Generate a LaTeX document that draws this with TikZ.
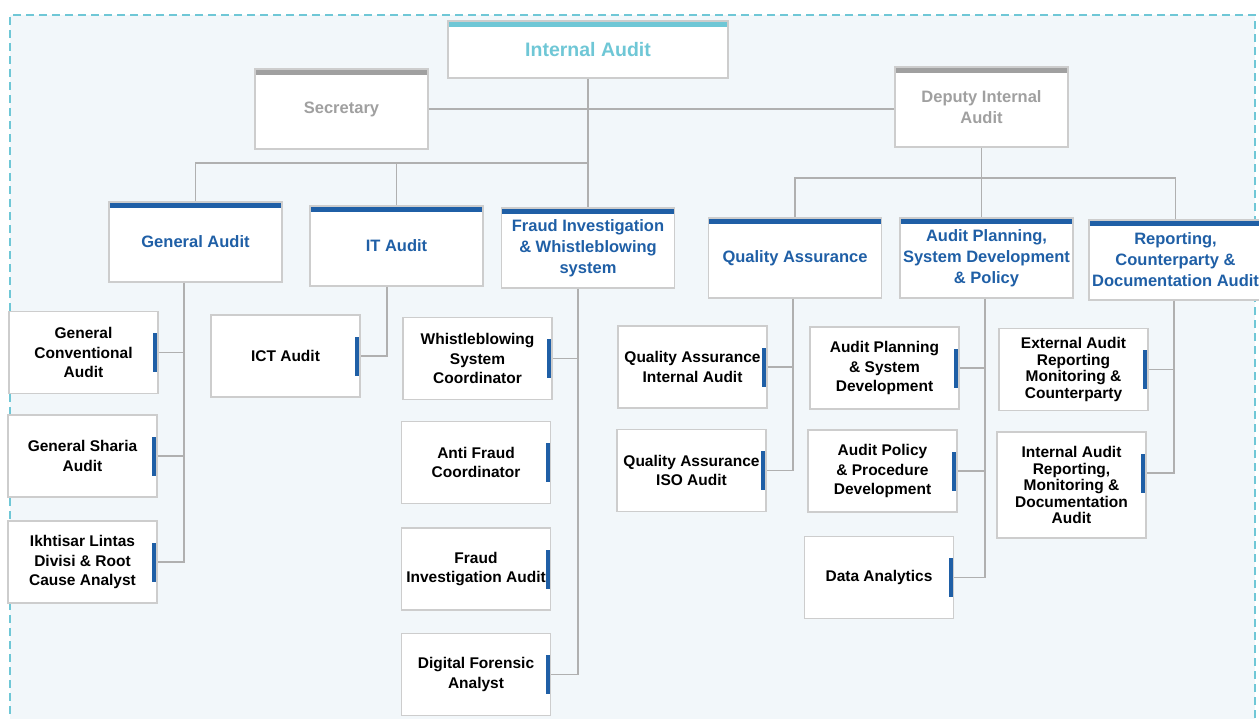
\documentclass[tikz,border=0pt]{standalone}
\usepackage{fontspec}
\setmainfont{Liberation Sans}
\usepackage{xcolor}

\definecolor{iablue}{HTML}{1F5FA6}
\definecolor{iacyan}{HTML}{6FC7D6}
\definecolor{iagray}{HTML}{A0A0A0}
\definecolor{iabg}{HTML}{F2F7FA}
\definecolor{iaedge}{HTML}{CDCDCD}
\definecolor{ialine}{HTML}{B0B0B0}

\tikzset{
  box/.style={draw=iaedge, line width=1.2pt, fill=white, align=center, inner sep=1pt},
  head/.style={box, minimum width=173pt, minimum height=80pt, text=#1,
    font=\fontsize{16.5}{21}\selectfont\bfseries,
    path picture={\fill[#1] (path picture bounding box.north west) rectangle ([yshift=-6pt]path picture bounding box.north east);}},
  head/.default=iablue,
  child/.style={box, minimum width=149pt, minimum height=82pt, text=black,
    font=\fontsize{15.5}{19.5}\selectfont\bfseries,
    path picture={\fill[iablue] ([xshift=-5pt,yshift=#1+19.5pt]path picture bounding box.east) rectangle ([yshift=#1-19.5pt]path picture bounding box.east);}},
  child/.default=0pt,
  tight/.style={font=\fontsize{15.5}{16.5}\selectfont\bfseries},
  link/.style={draw=ialine, line width=1.1pt}
}

\begin{document}
\begin{tikzpicture}[x=1pt, y=-1pt]
    \useasboundingbox (0,0) rectangle (1259,718);
    \fill[iabg] (10,15) rectangle (1255,740);
    \draw[iacyan, line width=2pt, dash pattern=on 8pt off 5pt] (10,740) -- (10,15) -- (1255,15) -- (1255,740);

    % top level
    \node[head=iacyan, minimum width=280pt, minimum height=57pt, font=\fontsize{19.5}{23}\selectfont\bfseries] (ia) at (588,49.5) {Internal Audit};
    \node[head=iagray] (sec) at (341.5,109) {Secretary};
    \node[head=iagray] (dep) at (981.5,107) {Deputy Internal\\Audit};

    \node[head] (ga) at (195.5,242) {General Audit};
    \node[head] (it) at (396.5,246) {IT Audit};
    \node[head] (fraud) at (588,248) {Fraud Investigation\\\& Whistleblowing\\system};
    \node[head] (qa) at (795,258) {Quality Assurance};
    \node[head] (ap) at (986.5,258) {Audit Planning,\\System Development\\\& Policy};
    \node[head] (rep) at (1175.5,260) {Reporting,\\Counterparty \&\\Documentation Audit};

    % units
    \node[child] (gc) at (83.5,352.5) {General\\Conventional\\Audit};
    \node[child] (gs) at (82.5,456) {General Sharia\\Audit};
    \node[child] (ilr) at (82.5,562) {Ikhtisar Lintas\\Divisi \& Root\\Cause Analyst};
    \node[child] (ict) at (285.5,356) {ICT Audit};
    \node[child] (wsc) at (477.5,358.5) {Whistleblowing\\System\\Coordinator};
    \node[child] (afc) at (476,462.5) {Anti Fraud\\Coordinator};
    \node[child] (fia) at (476,569) {Fraud\\Investigation Audit};
    \node[child] (dfa) at (476,674.5) {Digital Forensic\\Analyst};
    \node[child] (qai) at (692.5,367) {Quality Assurance\\Internal Audit};
    \node[child] (qaiso) at (691.5,470.5) {Quality Assurance\\ISO Audit};
    \node[child] (aps) at (884.5,368) {Audit Planning\\\& System\\Development};
    \node[child] (app) at (882.5,471) {Audit Policy\\\& Procedure\\Development};
    \node[child] (da) at (879,577.5) {Data Analytics};
    \node[child, tight] (ear) at (1073.5,369.5) {External Audit\\Reporting\\Monitoring \&\\Counterparty};
    \node[child=12pt, tight, minimum height=106pt] (iar) at (1071.5,485) {Internal Audit\\Reporting,\\Monitoring \&\\Documentation\\Audit};

    % lines
    \coordinate (busL) at (588,163);
    \coordinate (busR) at (981.5,178);
    \draw[link] (ia) -- (fraud);
    \draw[link] (sec.east) -- (sec.east -| dep.west);
    \draw[link] (ga.north) |- (busL);
    \draw[link] (it.north) |- (busL);
    \draw[link] (dep.south) -- (busR) -- (busR |- ap.north);
    \draw[link] (qa.north) |- (busR);
    \draw[link] (rep.north) |- (busR);

    \coordinate (gaBus) at ([xshift=-11.5pt]ga.south);
    \draw[link] (gaBus) |- (ilr.east);
    \draw[link] (gc.east) -- (gc.east -| gaBus);
    \draw[link] (gs.east) -- (gs.east -| gaBus);

    \draw[link] ([xshift=-9.5pt]it.south) |- (ict.east);

    \coordinate (frBus) at ([xshift=-10pt]fraud.south);
    \draw[link] (frBus) |- (dfa.east);
    \draw[link] (wsc.east) -- (wsc.east -| frBus);

    \coordinate (qaBus) at ([xshift=-2pt]qa.south);
    \draw[link] (qaBus) |- (qaiso.east);
    \draw[link] (qai.east) -- (qai.east -| qaBus);

    \coordinate (apBus) at ([xshift=-1.5pt]ap.south);
    \draw[link] (apBus) |- (da.east);
    \draw[link] (aps.east) -- (aps.east -| apBus);
    \draw[link] (app.east) -- (app.east -| apBus);

    \coordinate (repBus) at ([xshift=-1.5pt]rep.south);
    \draw[link] (repBus) |- ([yshift=12pt]iar.east);
    \draw[link] (ear.east) -- (ear.east -| repBus);
\end{tikzpicture}
\end{document}
